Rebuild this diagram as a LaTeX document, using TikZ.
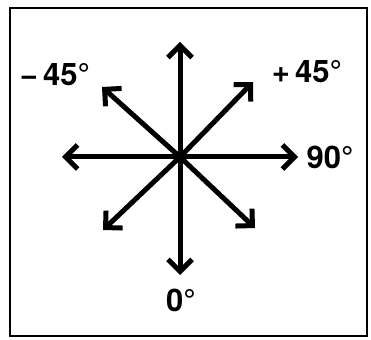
\documentclass[tikz,border=0pt]{standalone}
\usepackage{fontspec}
\setmainfont{TeX Gyre Heros}
\usetikzlibrary{arrows.meta}

\begin{document}
\begin{tikzpicture}[
  x=1pt,y=1pt,
  frame/.style={draw=black,line width=2pt},
  ray/.style={draw=black,line width=5pt,
    -{Straight Barb[angle=90:17pt,line cap=butt,line join=miter]}},
  angletag/.style={font=\fontsize{31}{31}\selectfont\bfseries,inner sep=0pt}
]
  \useasboundingbox (0,0) rectangle (371,339);
  \draw[frame] (10,331) rectangle (367,3);

  \coordinate (hub) at (180,182);
  \coordinate (up) at (180,297);
  \coordinate (down) at (180,64);
  \coordinate (west) at (62,182);
  \coordinate (east) at (298,182);
  \coordinate (nw) at (102,252);
  \coordinate (ne) at (253,257);
  \coordinate (sw) at (103,109);
  \coordinate (se) at (255,111);

  \foreach \tip in {up,down,west,east,nw,ne,sw,se}
    \draw[ray] (hub) -- (\tip);
  \fill (hub) circle (6);

  \node[angletag] (minus) at (55,264) {−\,45°};
  \node[angletag] (plus) at (307,267) {+\,45°};
  \node[angletag] (right) at (330,182) {90°};
  \node[angletag] (zero) at (181,39) {0°};
\end{tikzpicture}
\end{document}
